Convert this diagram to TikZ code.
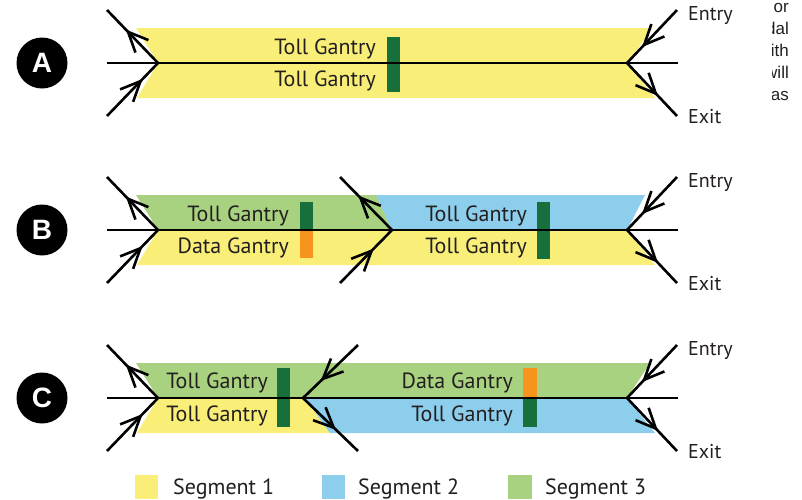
\documentclass[tikz,border=0pt]{standalone}
\usepackage{fontspec}
\setmainfont{PT Sans}
\newfontfamily\badgefont{Liberation Sans}
\newfontfamily\fragfont{Liberation Sans}
\usetikzlibrary{arrows.meta,decorations.markings}

\definecolor{segyellow}{HTML}{F8EE78}
\definecolor{segblue}{HTML}{8CCEEC}
\definecolor{seggreen}{HTML}{A8D27F}
\definecolor{gdark}{HTML}{17703C}
\definecolor{gorange}{HTML}{F7941E}
\definecolor{ink}{HTML}{231F20}

\tikzset{
  road/.style={line width=2.6pt, draw=black, line join=miter},
  ramp/.style={road, postaction={decorate},
    decoration={markings, mark=at position #1 with {\arrow{Straight Barb[length=20pt,width=18pt]}}}},
  ramp/.default=0.66,
  lbl/.style={font=\fontsize{22}{26}\selectfont, text=ink, inner sep=0pt, anchor=base east},
  side/.style={font=\fontsize{20}{24}\selectfont, text=ink, inner sep=0pt, anchor=base west},
  legtext/.style={font=\fontsize{22}{26}\selectfont, text=ink, inner sep=0pt, anchor=base west},
  badge/.style={circle, fill=black, minimum size=51pt, inner sep=0pt, text=white,
    font=\badgefont\bfseries\fontsize{28}{28}\selectfont},
  frag/.style={font=\fragfont\fontsize{17}{19}\selectfont, text=ink, inner sep=0pt, anchor=base east},
}

\begin{document}
\begin{tikzpicture}[x=1pt, y=-1pt]
\useasboundingbox (0,0) rectangle (802,499);
\fill[white] (0,0) rectangle (802,499);

% ---------------- Panel A ----------------
\fill[segyellow] (158,63) -- (136,28) -- (653,28) -- (627,63) -- (655,98) -- (137,98) -- cycle;
\fill[gdark] (387,37) rectangle (400,92);
\node[lbl] (tA1) at (376,54) {Toll Gantry};
\node[lbl] (tA2) at (376,86) {Toll Gantry};
\coordinate (AjL) at (158,63);
\coordinate (AjR) at (627,63);
\coordinate (AwE) at (107,63);
\coordinate (AeE) at (678,63);
\coordinate (AulE) at (107,10);
\coordinate (AllE) at (107,116);
\coordinate (AurE) at (677,10);
\coordinate (AlrE) at (677,116);
\draw[road] (AwE) -- (AeE);
\draw[ramp=0.63] (AjL) -- (AulE);
\draw[ramp=0.70] (AllE) -- (AjL);
\draw[ramp=0.70] (AurE) -- (AjR);
\draw[ramp=0.62] (AjR) -- (AlrE);
\node[side] (AEntry) at (688,20) {Entry};
\node[side] (AExit) at (688,123) {Exit};
\node[badge] (bA) at (42,63) {A};

% ---------------- Panel B ----------------
\fill[seggreen] (158,230) -- (136,195) -- (376,195) -- (392,230) -- cycle;
\fill[segblue] (376,195) -- (645,195) -- (627,230) -- (392,230) -- cycle;
\fill[segyellow] (158,230) -- (137,265) -- (655,265) -- (627,230) -- cycle;
\fill[gdark] (300,202) rectangle (313,230);
\fill[gorange] (300,230) rectangle (313,258);
\fill[gdark] (537,202) rectangle (550,259);
\node[lbl] (tB1) at (289,221) {Toll Gantry};
\node[lbl] (tB2) at (289,253) {Data Gantry};
\node[lbl] (tB3) at (527,221) {Toll Gantry};
\node[lbl] (tB4) at (527,253) {Toll Gantry};
\coordinate (BjL) at (158,230);
\coordinate (BjM) at (392,230);
\coordinate (BjR) at (627,230);
\coordinate (BwE) at (107,230);
\coordinate (BeE) at (678,230);
\coordinate (BulE) at (107,177);
\coordinate (BllE) at (107,283);
\coordinate (BumE) at (340,177);
\coordinate (BlmE) at (340,283);
\coordinate (BurE) at (677,177);
\coordinate (BlrE) at (677,283);
\draw[road] (BwE) -- (BeE);
\draw[ramp=0.63] (BjL) -- (BulE);
\draw[ramp=0.70] (BllE) -- (BjL);
\draw[ramp=0.65] (BjM) -- (BumE);
\draw[ramp=0.65] (BlmE) -- (BjM);
\draw[ramp=0.70] (BurE) -- (BjR);
\draw[ramp=0.62] (BjR) -- (BlrE);
\node[side] (BEntry) at (688,187) {Entry};
\node[side] (BExit) at (688,290) {Exit};
\node[badge] (bB) at (42,230) {B};

% ---------------- Panel C ----------------
\fill[seggreen] (158,398) -- (136,363) -- (650,363) -- (627,398) -- cycle;
\fill[segyellow] (158,398) -- (137,433) -- (330,433) -- (305,398) -- cycle;
\fill[segblue] (305,398) -- (330,433) -- (655,433) -- (627,398) -- cycle;
\fill[gdark] (277,368) rectangle (290,427);
\fill[gorange] (523,368) rectangle (537,398);
\fill[gdark] (523,398) rectangle (537,427);
\node[lbl] (tC1) at (268,388) {Toll Gantry};
\node[lbl] (tC2) at (268,421) {Toll Gantry};
\node[lbl] (tC3) at (513,388) {Data Gantry};
\node[lbl] (tC4) at (513,421) {Toll Gantry};
\coordinate (CjL) at (158,398);
\coordinate (CjM) at (303,398);
\coordinate (CjR) at (627,398);
\coordinate (CwE) at (107,398);
\coordinate (CeE) at (678,398);
\coordinate (CulE) at (107,345);
\coordinate (CllE) at (107,451);
\coordinate (CumE) at (358,345);
\coordinate (ClmE) at (358,451);
\coordinate (CurE) at (677,345);
\coordinate (ClrE) at (677,451);
\draw[road] (CwE) -- (CeE);
\draw[ramp=0.63] (CjL) -- (CulE);
\draw[ramp=0.70] (CllE) -- (CjL);
\draw[ramp=0.68] (CumE) -- (CjM);
\draw[ramp=0.60] (CjM) -- (ClmE);
\draw[ramp=0.70] (CurE) -- (CjR);
\draw[ramp=0.62] (CjR) -- (ClrE);
\node[side] (CEntry) at (688,355) {Entry};
\node[side] (CExit) at (688,458) {Exit};
\node[badge] (bC) at (42,398) {C};

% ---------------- Legend ----------------
\fill[segyellow] (135,475) rectangle (158,499);
\node[legtext] (L1) at (173,494) {Segment 1};
\fill[segblue] (322,475) rectangle (345,499);
\node[legtext] (L2) at (358,494) {Segment 2};
\fill[seggreen] (508,475) rectangle (532,499);
\node[legtext] (L3) at (545,494) {Segment 3};

% ---------------- Cropped text fragments ----------------
\begin{scope}
\clip (772,0) rectangle (802,120);
\node[frag] (f1) at (789,12) {or};
\node[frag] (f2) at (789,34) {dal};
\node[frag] (f3) at (789,56) {ith};
\node[frag] (f4) at (789,78) {will};
\node[frag] (f5) at (789,100) {has};
\end{scope}
\end{tikzpicture}
\end{document}
